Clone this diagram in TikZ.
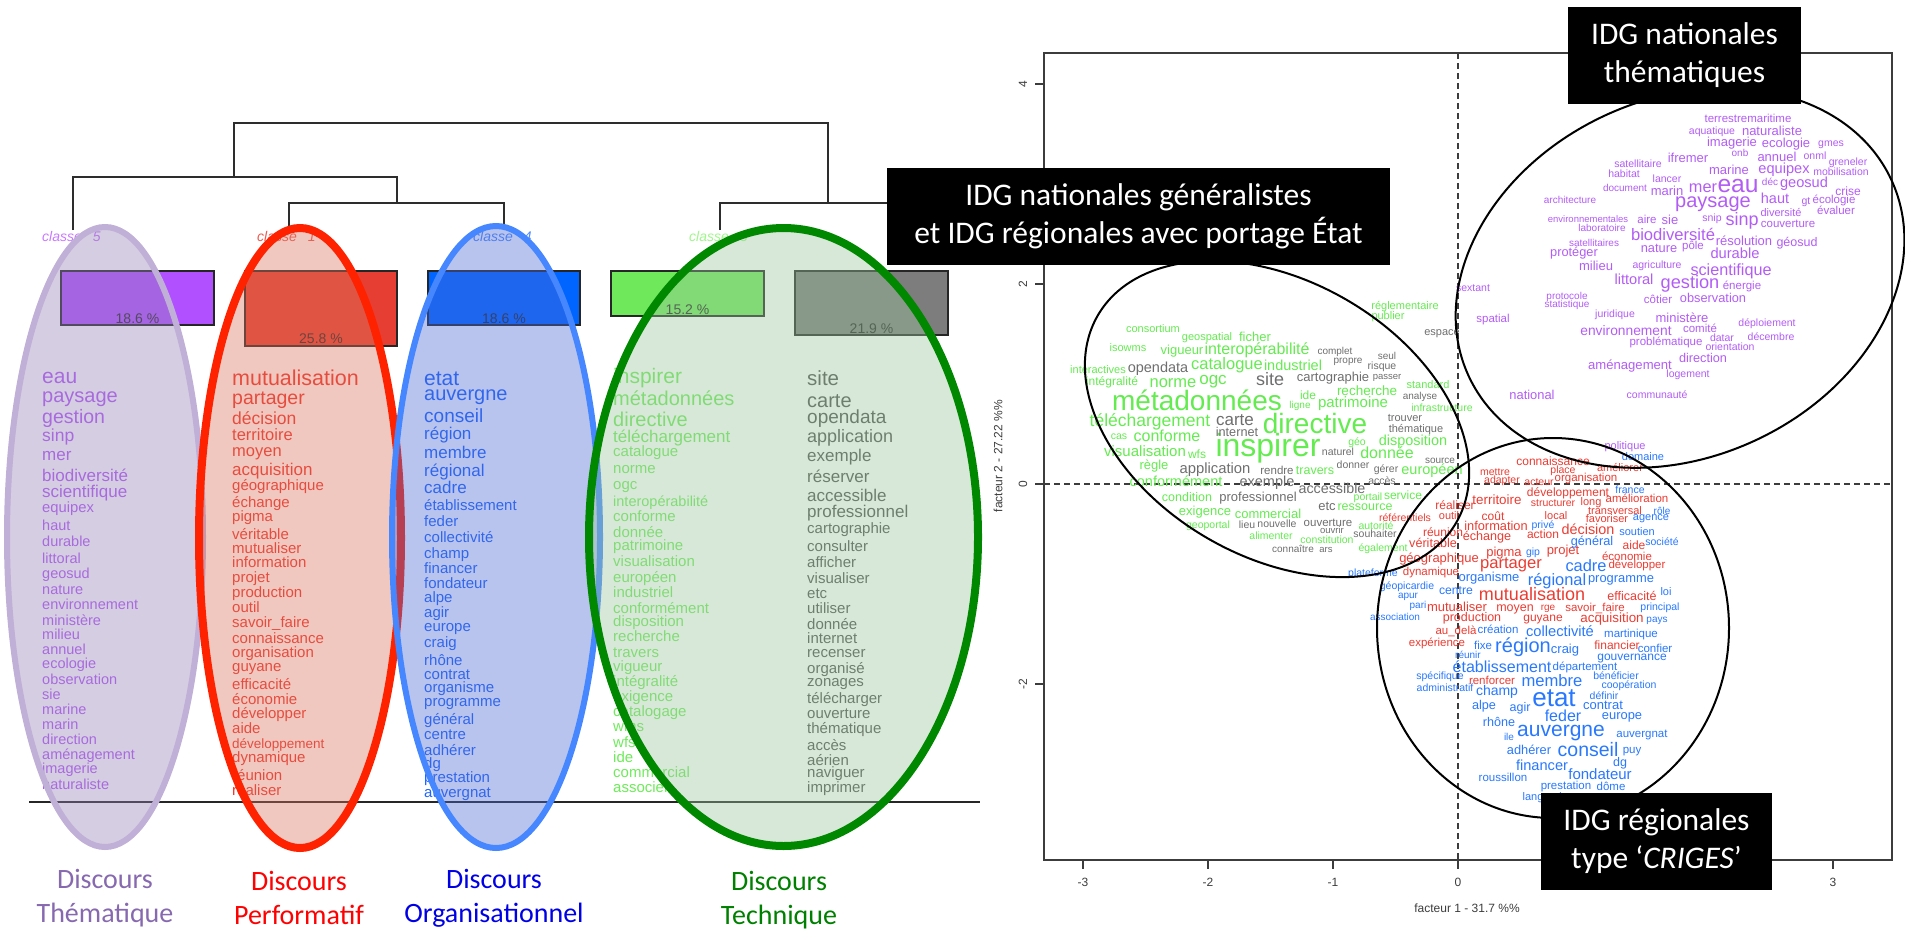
\documentclass[tikz,border=0pt]{standalone}
\usepackage{fontspec}
\setmainfont{Liberation Sans}
\newfontfamily\calibfont{Carlito}

% dendrogram and bars
\definecolor{dendrocol}{RGB}{45,45,45}
\definecolor{barV}{RGB}{176,80,255}
\definecolor{barR}{RGB}{230,62,50}
\definecolor{barB}{RGB}{0,100,255}
\definecolor{barG}{RGB}{112,232,92}
\definecolor{barK}{RGB}{125,125,125}
% class labels
\definecolor{clV}{RGB}{200,120,255}
\definecolor{clR}{RGB}{235,90,80}
\definecolor{clB}{RGB}{80,140,255}
\definecolor{clG}{RGB}{160,245,140}
% word columns
\definecolor{wV}{RGB}{180,90,250}
\definecolor{wR}{RGB}{240,50,40}
\definecolor{wB}{RGB}{30,100,255}
\definecolor{wG}{RGB}{110,235,90}
\definecolor{wK}{RGB}{80,80,80}
% discourse lenses
\definecolor{eVline}{RGB}{192,175,215}
\definecolor{eVfill}{RGB}{150,130,180}
\definecolor{eRline}{RGB}{255,34,0}
\definecolor{eRfill}{RGB}{217,117,97}
\definecolor{eBline}{RGB}{70,135,255}
\definecolor{eBfill}{RGB}{77,107,212}
\definecolor{eGline}{RGB}{0,136,0}
\definecolor{eGfill}{RGB}{157,197,157}
% discourse captions
\definecolor{lThem}{RGB}{135,105,175}
\definecolor{lPerf}{RGB}{255,0,0}
\definecolor{lOrg}{RGB}{0,0,230}
\definecolor{lTech}{RGB}{0,128,0}
% factor map words
\definecolor{pG}{RGB}{100,235,80}
\definecolor{pK}{RGB}{110,110,110}
\definecolor{pV}{RGB}{178,92,245}
\definecolor{pR}{RGB}{235,60,50}
\definecolor{pB}{RGB}{40,120,255}
\definecolor{axiscol}{RGB}{60,60,60}

\begin{document}
\begin{tikzpicture}[x=1pt,y=-1pt,
  cw/.style={inner sep=0pt, anchor=base west},
  pw/.style={inner sep=0pt, anchor=base},
  dendro/.style={draw=dendrocol, line width=1.4pt},
  barbox/.style={draw=black!85, line width=1.2pt},
  pct/.style={inner sep=0pt, anchor=base, text=black!85, font=\fontsize{14}{14}\selectfont},
  cls/.style={inner sep=0pt, anchor=base west, font=\fontsize{14}{14}\selectfont\itshape},
  lens/.style={fill opacity=0.4},
  caption/.style={inner sep=0pt, align=center, font=\calibfont\fontsize{28}{34}\selectfont},
  tag/.style={fill=black, text=white, inner sep=0pt, align=center, font=\calibfont\fontsize{31.5}{38}\selectfont},
  tick/.style={inner sep=0pt, text=axiscol, font=\fontsize{12}{12}\selectfont},
  cluster/.style={draw=black, line width=2pt}
]
\useasboundingbox (0,0) rectangle (1905,935);

% ---------------- dendrogram ----------------
\coordinate (k5) at (73,230);
\coordinate (k1) at (289,230);
\coordinate (k4) at (504,230);
\coordinate (k3) at (720,230);
\coordinate (k2) at (940,230);
\draw[dendro] (k5) |- (397,177) -- (397,203);
\draw[dendro] (k1) |- (504,203) -- (k4);
\draw[dendro] (234,177) |- (828,123) -- (828,203);
\draw[dendro] (k3) |- (940,203) -- (k2);

\node[cls, text=clV] (cl5) at (42,241) {classe\hspace{11pt}5};
\node[cls, text=clR] (cl1) at (257,241) {classe\hspace{11pt}1};
\node[cls, text=clB] (cl4) at (473,241) {classe\hspace{11pt}4};
\node[cls, text=clG] (cl3) at (689,241) {classe\hspace{11pt}3};

% ---------------- class size bars ----------------
\draw[barbox, fill=barV] (61,271) rectangle (214,325);
\draw[barbox, fill=barR] (245,271) rectangle (397,346);
\draw[barbox, fill=barB] (428,271) rectangle (580,325);
\draw[barbox, fill=barG] (611,271) rectangle (764,316);
\draw[barbox, fill=barK] (795,271) rectangle (948,335);
\node[pct] (p5) at (137.5,323) {18.6 \%};
\node[pct] (p1) at (321,343) {25.8 \%};
\node[pct] (p4) at (504,323) {18.6 \%};
\node[pct] (p3) at (687.5,314) {15.2 \%};
\node[pct] (p2) at (871.5,333) {21.9 \%};

% ---------------- word columns ----------------
\begin{scope}
\clip (0,0) rectangle (1000,802);
\foreach \py/\fs/\w [count=\i] in {378/21/eau,397/20/paysage,418/19.5/gestion,437/17.5/sinp,456/17/mer,477/17/biodiversité,493/17/scientifique,509/14.8/equipex,527/14.5/haut,543/14.5/durable,560/14.5/littoral,575/14.5/geosud,591/14.5/nature,606/14.5/environnement,622/14.5/ministère,636/14.5/milieu,651/14.5/annuel,665/14.5/ecologie,681/14.5/observation,696/14.5/sie,711/14.5/marine,726/14.5/marin,741/14.5/direction,756/14.5/aménagement,770/14.5/imagerie,786/14.5/naturaliste}
  \node[cw, text=wV, font=\fontsize{\fs}{\fs}\selectfont] (cv\i) at (42,{\py+0.26*\fs}) {\w};
\foreach \py/\fs/\w [count=\i] in {380/21.5/mutualisation,399/19.5/partager,420/17.5/décision,436/16.5/territoire,452/16.5/moyen,471/17/acquisition,487/15/géographique,504/15/échange,518/15/pigma,536/15/véritable,550/15/mutualiser,564/15/information,579/15/projet,594/15/production,609/15/outil,624/15/savoir\_faire,640/15/connaissance,654/15/organisation,668/15/guyane,686/15/efficacité,701/15/économie,715/15/développer,730/15/aide,745/13.5/développement,759/15/dynamique,777/15/réunion,792/15/réaliser}
  \node[cw, text=wR, font=\fontsize{\fs}{\fs}\selectfont] (cr\i) at (232,{\py+0.26*\fs}) {\w};
\foreach \py/\fs/\w [count=\i] in {380/21/etat,395/20/auvergne,418/19/conseil,435/17/région,454/17/membre,472/17/régional,489/17/cadre,507/15/établissement,523/15/feder,539/15/collectivité,555/15/champ,570/15/financer,585/15/fondateur,599/15/alpe,614/15/agir,628/15/europe,644/15/craig,662/15/rhône,676/15/contrat,689/15/organisme,703/15/programme,721/15/général,736/15/centre,752/15/adhérer,765/15/dg,779/15/prestation,794/15/auvergnat}
  \node[cw, text=wB, font=\fontsize{\fs}{\fs}\selectfont] (cb\i) at (424,{\py+0.26*\fs}) {\w};
\foreach \py/\fs/\w [count=\i] in {378/21/inspirer,400/20/métadonnées,421/20/directive,438/17/téléchargement,453/15/catalogue,470/15/norme,486/15/ogc,503/14.5/interopérabilité,518/15/conforme,534/15/donnée,547/15/patrimoine,563/15/visualisation,579/15/européen,594/15/industriel,610/15/conformément,623/15/disposition,638/15/recherche,654/15/travers,668/15/vigueur,683/15/intégralité,698/15/exigence,713/15/catalogage,728/15/wms,744/15/wfs,759/15/ide,774/15/commercial,789/15/associer}
  \node[cw, text=wG, font=\fontsize{\fs}{\fs}\selectfont] (cg\i) at (613,{\py+0.26*\fs}) {\w};
\foreach \py/\fs/\w [count=\i] in {380/20.5/site,402/20/carte,419/19/opendata,438/18/application,457/17/exemple,478/17/réserver,497/17/accessible,513/17/professionnel,530/15/cartographie,548/15/consulter,564/15/afficher,580/15/visualiser,595/15/etc,610/15/utiliser,626/15/donnée,640/15/internet,654/15/recenser,670/15/organisé,683/15/zonages,700/15/télécharger,715/15/ouverture,730/15/thématique,747/15/accès,762/15/aérien,774/15/naviguer,789/15/imprimer}
  \node[cw, text=wK, font=\fontsize{\fs}{\fs}\selectfont] (ck\i) at (807,{\py+0.26*\fs}) {\w};
\end{scope}

\draw[line width=1.2pt, black!85] (29,802) -- (980,802);

% ---------------- discourse lenses ----------------
\draw[lens, fill=eVfill, draw=eVline, line width=6pt] (105,537) ellipse [x radius=98pt, y radius=310pt];
\draw[lens, fill=eRfill, draw=eRline, line width=8pt] (300,538) ellipse [x radius=101pt, y radius=310pt];
\draw[lens, fill=eBfill, draw=eBline, line width=6pt] (496,537) ellipse [x radius=104pt, y radius=311pt];
\draw[lens, fill=eGfill, draw=eGline, line width=8pt] (783.5,537) ellipse [x radius=194.5pt, y radius=309pt];

\node[caption, text=lThem] (dThem) at (105,898) {Discours\\Thématique};
\node[caption, text=lPerf] (dPerf) at (299,898) {Discours\\Performatif};
\node[caption, text=lOrg] (dOrg) at (494,898) {Discours\\Organisationnel};
\node[caption, text=lTech] (dTech) at (779,900) {Discours\\Technique};

% ---------------- factor map ----------------
\draw[axiscol, line width=1.5pt] (1044,53) rectangle (1892,860);
\draw[axiscol, line width=1.3pt, dash pattern=on 6pt off 4pt] (1458,53) -- (1458,860);
\draw[axiscol, line width=1.3pt, dash pattern=on 6pt off 4pt] (1044,484) -- (1892,484);
\foreach \v [count=\i] in {-3,-2,-1,0,1,2,3} {
  \draw[axiscol, line width=1.3pt] ({1458+125*\v},860) -- ({1458+125*\v},869);
  \node[tick] (xt\i) at ({1458+125*\v},882) {\v};
}
\foreach \v [count=\i] in {4,2,0,-2} {
  \draw[axiscol, line width=1.3pt] (1035,{484-100*\v}) -- (1044,{484-100*\v});
  \node[tick, rotate=90] (yt\i) at (1023,{484-100*\v}) {\v};
}
\node[tick] (xlab) at (1467,908) {facteur 1 - 31.7 \%\%};
\node[tick, rotate=90] (ylab) at (998,456) {facteur 2 - 27.22 \%\%};

% technical vocabulary
\foreach \px/\py/\fs/\w [count=\i] in {1153/330/11/consortium,1207/338/11/geospatial,1255/338/13/ficher,1128/349/11/isowms,1182/351/13/vigueur,1257/350/16/interopérabilité,1098/371/11/interactives,1227/365/16.5/catalogue,1293/367/14.5/industriel,1112/382/12/intégralité,1173/383/16.5/norme,1213/380/17/ogc,1428/386/11/standard,1197/403/28/métadonnées,1308/396/12/ide,1300/406/10/ligne,1367/392/13.5/recherche,1353/404/15/patrimoine,1442/409/10.5/infrastructure,1150/422/17.5/téléchargement,1315/426/28/directive,1119/437/10.5/cas,1167/437/16/conforme,1357/443/10.5/géo,1413/442/14.5/disposition,1145/453/15/visualisation,1197/455/12/wfs,1268/448/32/inspirer,1387/454/16/donnée,1154/466/13/règle,1315/471/12.5/travers,1432/471/14.5/européen,1176/483/14.5/conformément,1187/498/12.5/condition,1368/498/10.5/portail,1403/496/12/service,1205/512/13/exigence,1268/515/13/commercial,1365/507/12.5/ressource,1208/526/10.5/geoportal,1376/527/10.5/autorité,1271/537/10.5/alimenter,1327/541/10.5/constitution,1383/549/10.5/également,1405/307/11/réglementaire,1388/317/11/publier}
  \node[pw, text=pG, font=\fontsize{\fs}{\fs}\selectfont] (mg\i) at (\px,{\py+0.26*\fs}) {\w};
\foreach \px/\py/\fs/\w [count=\i] in {1335/352/10/complet,1387/357/10/seul,1348/361/10/propre,1382/367/10.5/risque,1158/369/14.5/opendata,1270/381/18/site,1333/378/13/cartographie,1387/377/9.5/passer,1420/397/10/analyse,1235/421/17/carte,1405/419/11/trouver,1416/430/11/thématique,1237/433/12.7/internet,1338/453/10.5/naturel,1440/461/10/source,1215/470/14.8/application,1277/472/11.5/rendre,1353/466/10.5/donner,1386/470/10.5/gérer,1267/483/14.5/exemple,1382/482/10.5/accès,1332/490/14.3/accessible,1258/498/13/professionnel,1327/507/13/etc,1247/526/10.5/lieu,1277/525/10.5/nouvelle,1328/523/11.5/ouverture,1332/531/9.5/ouvrir,1375/535/10.5/souhaiter,1293/550/10/connaître,1326/550/9.5/ars,1442/333/11/espace}
  \node[pw, text=pK, font=\fontsize{\fs}{\fs}\selectfont] (mk\i) at (\px,{\py+0.26*\fs}) {\w};
% thematic vocabulary
\foreach \px/\py/\fs/\w [count=\i] in {1748/120/11.5/terrestremaritime,1712/132/10.5/aquatique,1772/132/13/naturaliste,1732/143/13/imagerie,1786/144/13/ecologie,1831/144/10.5/gmes,1740/154/10/onb,1638/165/10.5/satellitaire,1688/159/13/ifremer,1777/158/13/annuel,1815/157/10.5/onml,1848/163/10.5/greneler,1624/175/10.5/habitat,1667/180/10.5/lancer,1729/171/13/marine,1784/170/14.6/equipex,1841/173/10.5/mobilisation,1625/189/10/document,1667/192/13/marin,1703/188/16.3/mer,1738/186/24.6/eau,1770/183/10/déc,1804/184/14.6/geosud,1848/192/12/crise,1570/201/10/architecture,1713/202/20/paysage,1775/200/14.5/haut,1806/202/10.5/gt,1834/201/11.5/écologie,1781/214/11/diversité,1836/212/11.5/évaluer,1588/220/9.5/environnementales,1647/221/11.5/aire,1670/221/13/sie,1712/219/10.5/snip,1742/221/18/sinp,1788/225/11.5/couverture,1602/229/10/laboratoire,1673/236/16.6/biodiversité,1744/242/13/résolution,1797/243/12.5/géosud,1594/244/10/satellitaires,1574/253/12.8/protéger,1659/249/12.8/nature,1693/247/11.5/pôle,1735/255/14.7/durable,1596/267/13/milieu,1657/266/10.5/agriculture,1731/271/16.2/scientifique,1634/281/14.6/littoral,1690/284/18.2/gestion,1742/287/11.5/énergie,1473/289/10.5/sextant,1567/297/10/protocole,1567/305/10/statistique,1658/301/11.5/côtier,1713/299/12.8/observation,1493/320/11.5/spatial,1615/315/10.5/juridique,1682/319/13/ministère,1767/324/10.5/déploiement,1626/332/13.8/environnement,1700/330/11.5/comité,1722/339/10.5/datar,1771/338/10.5/décembre,1666/343/11.5/problématique,1730/348/10.5/orientation,1630/366/13.1/aménagement,1703/359/12.7/direction,1688/375/10.5/logement,1532/396/12.9/national,1657/396/10.5/communauté,1625/447/11/politique}
  \node[pw, text=pV, font=\fontsize{\fs}{\fs}\selectfont] (mv\i) at (\px,{\py+0.26*\fs}) {\w};
% performative vocabulary
\foreach \px/\py/\fs/\w [count=\i] in {1553/462/12/connaissance,1563/471/10.5/place,1620/469/11/améliorer,1495/473/10.5/mettre,1502/481/10.5/adapter,1539/483/10.5/acteur,1586/479/11.5/organisation,1497/501/13.4/territoire,1568/493/12/développement,1455/506/12/réaliser,1553/504/10.5/structurer,1591/503/11/long,1637/500/11.5/amélioration,1405/519/10.5/référentiels,1449/517/11/outil,1493/517/12/coût,1556/517/11/local,1615/512/11/transversal,1607/520/11/favoriser,1496/527/12.8/information,1443/533/12/réunion,1487/537/12.6/échange,1543/535/12/action,1588/531/14.4/décision,1433/544/12.6/véritable,1634/546/12/aide,1504/553/13/pigma,1563/551/13/projet,1627/557/11.5/économie,1439/559/13/géographique,1511/564/16.6/partager,1637/565/11.5/développer,1431/572/11.5/dynamique,1532/596/18/mutualisation,1632/597/12.5/efficacité,1457/608/13/mutualiser,1515/608/12.5/moyen,1548/608/10/rge,1595/608/11.5/savoir\_faire,1472/618/12.5/production,1543/618/12/guyane,1612/619/13.4/acquisition,1456/631/11.5/au\_delà,1437/643/11.5/expérience,1617/646/12/financier,1492/681/11.5/renforcer}
  \node[pw, text=pR, font=\fontsize{\fs}{\fs}\selectfont] (mr\i) at (\px,{\py+0.26*\fs}) {\w};
% organisational vocabulary
\foreach \px/\py/\fs/\w [count=\i] in {1643/458/11/domaine,1630/491/10.5/france,1662/512/10/rôle,1651/518/11/agence,1543/526/10.5/privé,1637/533/11/soutien,1592/542/12.7/général,1662/543/10.5/société,1533/553/10.5/gip,1586/567/16.4/cadre,1489/578/13/organisme,1557/581/16.4/régional,1621/579/12.9/programme,1373/574/10.5/plateforme,1407/587/10.5/géopicardie,1456/591/12.2/centre,1408/596/10/apur,1666/593/11/loi,1418/606/10/pari,1660/608/10.5/principal,1395/618/10/association,1657/620/10/pays,1498/630/11.5/création,1560/633/14.7/collectivité,1631/634/11.5/martinique,1483/646/11.5/fixe,1523/647/20/région,1565/650/13/craig,1655/649/11.5/confier,1468/656/10/réunir,1632/657/12/gouvernance,1502/668/16/établissement,1585/667/11.5/département,1440/677/10.5/spécifique,1552/682/16.6/membre,1616/677/10.5/bénéficier,1629/686/10.5/coopération,1445/689/10.5/administratif,1497/692/14/champ,1554/700/26/etat,1604/697/10.5/définir,1484/706/12.7/alpe,1520/708/12.5/agir,1603/706/13/contrat,1563/717/16/feder,1622/716/12.9/europe,1499/723/12.6/rhône,1561/731/21/auvergne,1642/734/11.5/auvergnat,1509/738/10/ile,1529/751/12.8/adhérer,1588/751/19.5/conseil,1632/750/11.5/puy,1620/763/12.5/dg,1542/767/14.6/financer,1503/778/11.5/roussillon,1600/776/15/fondateur,1566/786/11.5/prestation,1611/787/11.5/dôme,1548/798/11/languedoc}
  \node[pw, text=pB, font=\fontsize{\fs}{\fs}\selectfont] (mb\i) at (\px,{\py+0.26*\fs}) {\w};

% clusters
\coordinate (cTech) at (1277,419);
\coordinate (cThem) at (1680,278);
\coordinate (cReg) at (1553,628);
\draw[cluster, rotate around={-30:(cTech)}] (cTech) ellipse [x radius=207pt, y radius=138pt];
\draw[cluster, rotate around={25:(cThem)}] (cThem) ellipse [x radius=233pt, y radius=179pt];
\draw[cluster] (cReg) ellipse [x radius=176pt, y radius=190pt];

% ---------------- tags ----------------
\node[tag, minimum width=233pt, minimum height=97pt] (tagThem) at (1684.5,55.5) {IDG nationales\\thématiques};
\node[tag, minimum width=503pt, minimum height=97pt] (tagGen) at (1138.5,216.5) {IDG nationales généralistes\\et IDG régionales avec portage État};
\node[tag, minimum width=231pt, minimum height=97pt] (tagReg) at (1656.5,841.5) {IDG régionales\\type ‘\textit{CRIGES}’};
\end{tikzpicture}
\end{document}
